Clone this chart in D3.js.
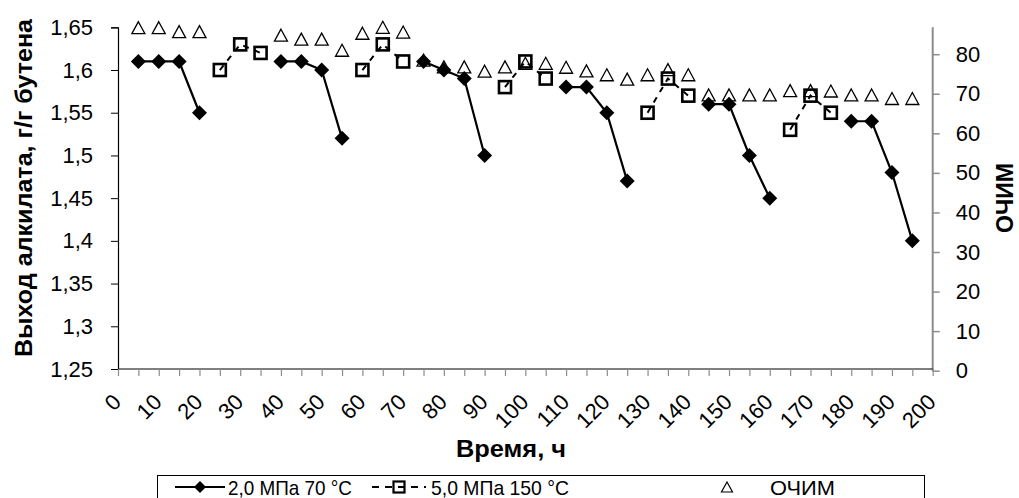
<!DOCTYPE html>
<html>
<head>
<meta charset="utf-8">
<script src="https://cdn.jsdelivr.net/npm/d3@7"></script>
<style>
  html, body { margin: 0; padding: 0; background: #fff; }
  svg { display: block; font-family: "Liberation Sans", Arial, sans-serif; }
</style>
</head>
<body>
<svg id="chart" width="1019" height="498"></svg>
<script>
// Sampling times, h
const time = [5,10,15,20,25,30,35,40,45,50,55,60,65,70,75,80,85,90,95,100,105,110,115,120,125,130,135,140,145,150,155,160,165,170,175,180,185,190,195];

// Alkylate yield, g/g butene — 2.0 MPa, 70 °C
const yield70 = [1.61,1.61,1.61,1.55,null,null,null,1.61,1.61,1.60,1.52,null,null,null,1.61,1.60,1.59,1.50,null,null,null,1.58,1.58,1.55,1.47,null,null,null,1.56,1.56,1.50,1.45,null,null,null,1.54,1.54,1.48,1.40];

// Alkylate yield, g/g butene — 5.0 MPa, 150 °C (regeneration)
const yield150 = [null,null,null,null,1.60,1.63,1.62,null,null,null,null,1.60,1.63,1.61,null,null,null,null,1.58,1.61,1.59,null,null,null,null,1.55,1.59,1.57,null,null,null,null,1.53,1.57,1.55,null,null,null,null];

// Research octane number (right axis)
const ron = [86.7,86.7,85.7,85.7,null,null,null,84.8,83.8,83.8,81.0,85.3,86.8,85.6,78.5,76.8,76.8,75.7,76.8,77.7,77.7,76.7,75.8,74.8,73.7,74.8,76.1,74.8,69.7,69.7,69.7,69.7,70.8,70.8,70.7,69.7,69.7,68.8,68.8];

const leftTicks = [1.25,1.3,1.35,1.4,1.45,1.5,1.55,1.6,1.65];
const rightTicks = [0,10,20,30,40,50,60,70,80];
const xTickLabels = [0,10,20,30,40,50,60,70,80,90,100,110,120,130,140,150,160,170,180,190,200];

const seriesNames = ["2,0 МПа 70 °C", "5,0 МПа 150 °C", "ОЧИМ"];

const svg = d3.select("#chart");
const W = 1019, H = 498;
const plot = { left: 118, right: 932.7, top: 27.3, bottom: 369 };

svg.append("rect").attr("width", W).attr("height", H).attr("fill", "#fff");

const x = d3.scaleLinear().domain([0, 200]).range([plot.left, plot.right]);
const yL = d3.scaleLinear().domain([1.25, 1.65]).range([plot.bottom, plot.top]);
const yR = d3.scaleLinear().domain([0, 86.8]).range([plot.bottom + 1.7, plot.top]);

const fmtComma = d => String(d).replace(".", ",");

// ---- Left axis
const gL = svg.append("g").attr("transform", `translate(${plot.left},0)`)
  .call(d3.axisLeft(yL).tickValues(leftTicks).tickSize(7).tickPadding(18).tickFormat(fmtComma));
gL.select(".domain").attr("stroke", "#000").attr("stroke-width", 1.2);
gL.selectAll(".tick line").attr("stroke", "#000").attr("stroke-width", 1);
gL.selectAll(".tick text").attr("font-size", 22).attr("fill", "#000")
  .attr("font-family", "Liberation Sans, Arial, sans-serif");

// ---- Right axis
const gR = svg.append("g").attr("transform", `translate(${plot.right},0)`)
  .call(d3.axisRight(yR).tickValues(rightTicks).tickSize(7).tickPadding(16));
gR.select(".domain").attr("stroke", "#8c8c8c").attr("stroke-width", 2)
  .attr("d", `M0,${plot.top}V${plot.bottom + 2}`);
gR.selectAll(".tick line").attr("stroke", "#8c8c8c").attr("stroke-width", 1.5);
gR.selectAll(".tick text").attr("font-size", 22).attr("fill", "#000")
  .attr("font-family", "Liberation Sans, Arial, sans-serif");

// ---- Bottom axis (ticks every 5 h, labels every 10 h)
const gB = svg.append("g").attr("transform", `translate(0,${plot.bottom})`)
  .call(d3.axisBottom(x).tickValues(d3.range(0, 201, 5)).tickSize(7).tickFormat(""));
gB.select(".domain").attr("stroke", "#000").attr("stroke-width", 1.2)
  .attr("d", `M${plot.left},0H${plot.right}`);
gB.selectAll(".tick line").attr("stroke", "#8c8c8c").attr("stroke-width", 1.2);

svg.append("g").selectAll("text").data(xTickLabels).join("text")
  .attr("transform", d => `translate(${x(d) - 1},${plot.bottom + 29}) rotate(-45)`)
  .attr("text-anchor", "end")
  .attr("dy", "0.35em")
  .attr("font-size", 22)
  .attr("fill", "#000")
  .text(d => d);

// ---- Axis titles
svg.append("text")
  .attr("transform", `translate(32,188) rotate(-90)`)
  .attr("text-anchor", "middle")
  .attr("font-size", 23).attr("font-weight", "bold")
  .attr("textLength", 338).attr("lengthAdjust", "spacingAndGlyphs")
  .text("Выход алкилата, г/г бутена");

svg.append("text")
  .attr("transform", `translate(1013,198) rotate(-90)`)
  .attr("text-anchor", "middle")
  .attr("font-size", 24).attr("font-weight", "bold")
  .attr("textLength", 70).attr("lengthAdjust", "spacingAndGlyphs")
  .text("ОЧИМ");

svg.append("text")
  .attr("x", 511).attr("y", 457)
  .attr("text-anchor", "middle")
  .attr("font-size", 23).attr("font-weight", "bold")
  .attr("textLength", 110).attr("lengthAdjust", "spacingAndGlyphs")
  .text("Время, ч");

// ---- Series
const rows = time.map((t, i) => ({ t, a: yield70[i], b: yield150[i], r: ron[i] }));

const diamond = s => `M0,${-s}L${s},0L0,${s}L${-s},0Z`;
const triangle = (w, h) => `M0,${-h / 2}L${w / 2},${h / 2}L${-w / 2},${h / 2}Z`;

// ОЧИМ (hollow triangles, right axis)
svg.append("g").selectAll("path").data(rows.filter(d => d.r != null)).join("path")
  .attr("transform", d => `translate(${x(d.t)},${yR(d.r)})`)
  .attr("d", triangle(13, 12))
  .attr("fill", "none").attr("stroke", "#000").attr("stroke-width", 1.3);

// 5.0 MPa 150 °C: dashed line + hollow squares
const lineB = d3.line().defined(d => d.b != null).x(d => x(d.t)).y(d => yL(d.b));
svg.append("path").datum(rows).attr("d", lineB)
  .attr("fill", "none").attr("stroke", "#000").attr("stroke-width", 2)
  .attr("stroke-dasharray", "6,6");
svg.append("g").selectAll("rect").data(rows.filter(d => d.b != null)).join("rect")
  .attr("x", d => x(d.t) - 6).attr("y", d => yL(d.b) - 6)
  .attr("width", 12).attr("height", 12)
  .attr("fill", "none").attr("stroke", "#000").attr("stroke-width", 2.6);

// 2.0 MPa 70 °C: solid line + filled diamonds
const lineA = d3.line().defined(d => d.a != null).x(d => x(d.t)).y(d => yL(d.a));
svg.append("path").datum(rows).attr("d", lineA)
  .attr("fill", "none").attr("stroke", "#000").attr("stroke-width", 2.2);
svg.append("g").selectAll("path").data(rows.filter(d => d.a != null)).join("path")
  .attr("transform", d => `translate(${x(d.t)},${yL(d.a)})`)
  .attr("d", diamond(7.5))
  .attr("fill", "#000");

// ---- Legend
const lg = svg.append("g");
lg.append("rect").attr("x", 157.5).attr("y", 475.5).attr("width", 767).attr("height", 30)
  .attr("fill", "#fff").attr("stroke", "#000").attr("stroke-width", 1);

const ly = 487;
lg.append("line").attr("x1", 175).attr("x2", 225).attr("y1", ly).attr("y2", ly)
  .attr("stroke", "#000").attr("stroke-width", 2.2);
lg.append("path").attr("transform", `translate(200,${ly})`).attr("d", diamond(6)).attr("fill", "#000");
lg.append("text").attr("x", 228).attr("y", ly + 8).attr("font-size", 21)
  .attr("textLength", 124).attr("lengthAdjust", "spacingAndGlyphs").text(seriesNames[0]);

lg.append("line").attr("x1", 372).attr("x2", 426).attr("y1", ly).attr("y2", ly)
  .attr("stroke", "#000").attr("stroke-width", 2).attr("stroke-dasharray", "7,6");
lg.append("rect").attr("x", 393.5).attr("y", ly - 5.5).attr("width", 11).attr("height", 11)
  .attr("fill", "none").attr("stroke", "#000").attr("stroke-width", 2.2);
lg.append("text").attr("x", 431).attr("y", ly + 8).attr("font-size", 21)
  .attr("textLength", 138).attr("lengthAdjust", "spacingAndGlyphs").text(seriesNames[1]);

lg.append("path").attr("transform", `translate(727,${ly})`).attr("d", triangle(11, 10))
  .attr("fill", "none").attr("stroke", "#000").attr("stroke-width", 1.2);
lg.append("text").attr("x", 770).attr("y", ly + 8).attr("font-size", 21)
  .attr("textLength", 65).attr("lengthAdjust", "spacingAndGlyphs").text(seriesNames[2]);
</script>
</body>
</html>
